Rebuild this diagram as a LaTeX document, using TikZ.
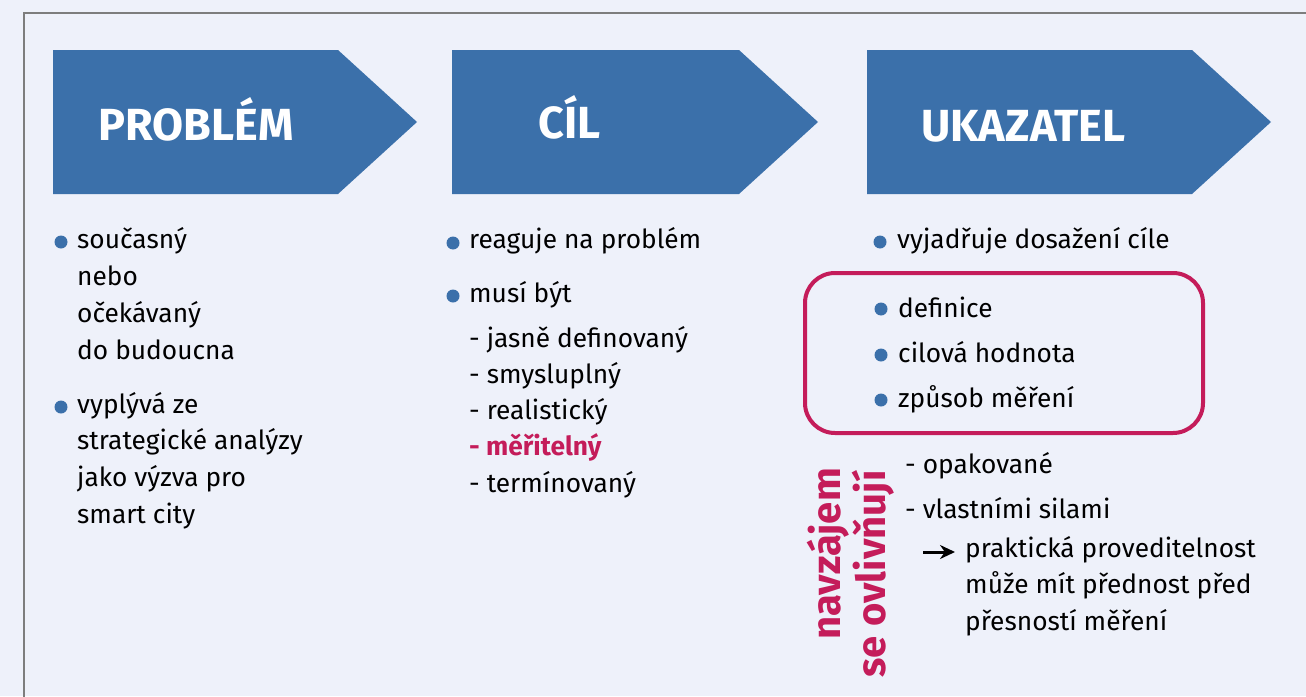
\documentclass[tikz,border=0pt]{standalone}
\usepackage{fontspec}
\setmainfont{Fira Sans}
\usetikzlibrary{positioning,calc,arrows.meta}
\definecolor{bgpage}{RGB}{238,241,250}
\definecolor{arrblue}{RGB}{59,112,170}
\definecolor{accent}{RGB}{196,28,90}
\definecolor{framegray}{RGB}{125,125,125}

\begin{document}
\begin{tikzpicture}[x=1pt,y=-1pt,
  head/.style={anchor=base west, inner sep=0pt, text=white, font=\fontsize{45}{54}\selectfont\bfseries},
  txt/.style={anchor=base west, inner sep=0pt, font=\fontsize{26.3}{32}\selectfont},
  hot/.style={txt, text=accent, font=\fontsize{26.3}{32}\selectfont\bfseries},
  vert/.style={anchor=base east, inner sep=0pt, rotate=90, text=accent, font=\fontsize{40}{48}\selectfont\bfseries},
  dot/.style={fill=arrblue}]

 \useasboundingbox (0,0) rectangle (1306,696);
 \fill[bgpage] (0,0) rectangle (1306,696);
 \draw[framegray, line width=1.5pt] (24,700) -- (24,13) -- (1310,13);

 % chevrons
 \foreach \l/\s/\t in {53/338/417, 452/739/818, 867/1192/1271}
   \fill[arrblue] (\l,50) -- (\s,50) -- (\t,122) -- (\s,194) -- (\l,194) -- cycle;
 \node[head] (problem) at (98,140) {PROBLÉM};
 \node[head] (cil) at (538,138) {CÍL};
 \node[head] (ukazatel) at (921,141) {UKAZATEL};

 % bullets
 \foreach \x/\y in {61/242, 61/407, 453/243, 453/296, 880/242, 881/309, 881/355, 881/400}
   \fill[dot] (\x,\y) circle[radius=6.5pt];

 % problem
 \foreach \row [count=\i] in {současný, nebo, očekávaný, do budoucna}
   \node[txt] (pa\i) at (77,{248+37.3*(\i-1)}) {\row};
 \foreach \row [count=\i] in {vyplývá ze, strategické analýzy, jako výzva pro, smart city}
   \node[txt] (pb\i) at (77,{413+36.7*(\i-1)}) {\row};

 % cil
 \node[txt] (ca) at (469,248) {reaguje na problém};
 \node[txt] (cb) at (469,302) {musí být};
 \foreach \row/\sty [count=\i] in {jasně definovaný/txt, smysluplný/txt, realistický/txt, měřitelný/hot, termínovaný/txt}
   \node[\sty] (cc\i) at (469,{347+36.3*(\i-1)}) {- \row};

 % ukazatel
 \node[txt] (ua) at (897,248) {vyjadřuje dosažení cíle};
 \foreach \row [count=\i] in {definice, cilová hodnota, způsob měření}
   \node[txt] (ub\i) at (898,{317+45*(\i-1)}) {\row};
 \draw[accent, line width=4pt, rounded corners=30pt] (805,273) rectangle (1203,433);

 \node[txt] (uc1) at (905,473) {- opakované};
 \node[txt] (uc2) at (905,518) {- vlastními silami};
 \foreach \row [count=\i] in {praktická proveditelnost, může mít přednost před, přesností měření}
   \node[txt] (ud\i) at (965,{557+36.5*(\i-1)}) {\row};
 \coordinate (arrtail) at (923,552);
 \draw[-{Stealth[length=15pt,width=14pt]}, line width=3pt, shorten >=10pt] (arrtail) -- (arrtail -| ud1.west);

 \node[vert] (nav1) at (840,468) {navzájem};
 \node[vert] (nav2) at (885,470) {se ovlivňují};

\end{tikzpicture}
\end{document}
